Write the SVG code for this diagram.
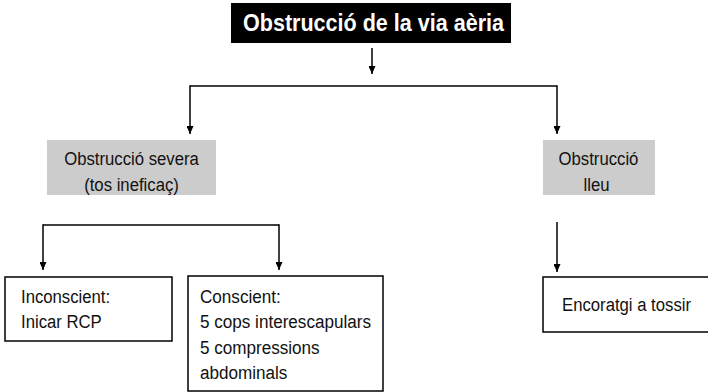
<svg xmlns="http://www.w3.org/2000/svg" width="708" height="392" viewBox="0 0 708 392">
<style>
text{font-family:"Liberation Sans",Arial,sans-serif;font-size:19px;fill:#111}
.title{font-size:24px;font-weight:bold;fill:#fff}
.gray{fill:#cccccc;stroke:none}
.box{fill:#fff;stroke:#000;stroke-width:1.5}
.ln{fill:none;stroke:#000;stroke-width:1.5}
</style>
<defs>
<marker id="ah" markerWidth="8" markerHeight="7" refX="8" refY="3.5" orient="auto" markerUnits="userSpaceOnUse">
<path d="M0,0 L8,3.5 L0,7 Z" fill="#000"/>
</marker>
</defs>
<g id="connectors">
<line class="ln" x1="372" y1="48" x2="372" y2="74" marker-end="url(#ah)"/>
<path class="ln" d="M190,86 H557"/>
<line class="ln" x1="190" y1="85.25" x2="190" y2="134" marker-end="url(#ah)"/>
<line class="ln" x1="557" y1="85.25" x2="557" y2="134" marker-end="url(#ah)"/>
<path class="ln" d="M43,225 H279"/>
<line class="ln" x1="43" y1="224.25" x2="43" y2="270" marker-end="url(#ah)"/>
<line class="ln" x1="279" y1="224.25" x2="279" y2="270" marker-end="url(#ah)"/>
<line class="ln" x1="557" y1="222" x2="557" y2="272" marker-end="url(#ah)"/>
</g>
<g id="title">
<rect x="231" y="3" width="280" height="40" fill="#000"/>
<text class="title" x="243" y="31" textLength="261" lengthAdjust="spacingAndGlyphs">Obstrucció de la via aèria</text>
</g>
<g id="severa">
<rect class="gray" x="47" y="140" width="169" height="55"/>
<text transform="translate(131.5,165) scale(0.88,1)" text-anchor="middle">Obstrucció severa</text>
<text transform="translate(131.5,191) scale(0.88,1)" text-anchor="middle">(tos ineficaç)</text>
</g>
<g id="lleu">
<rect class="gray" x="543" y="140" width="112" height="55"/>
<text transform="translate(598.5,165) scale(0.88,1)" text-anchor="middle">Obstrucció</text>
<text transform="translate(596.5,191) scale(0.88,1)" text-anchor="middle">lleu</text>
</g>
<g id="inconscient">
<rect class="box" x="5" y="277" width="167" height="64"/>
<text transform="translate(21,303) scale(0.88,1)">Inconscient:</text>
<text transform="translate(21,328) scale(0.88,1)">Inicar RCP</text>
</g>
<g id="conscient">
<rect class="box" x="188" y="276" width="195" height="115"/>
<text transform="translate(200,303) scale(0.9,1)">Conscient:</text>
<text transform="translate(200,328) scale(0.9,1)">5 cops interescapulars</text>
<text transform="translate(200,354) scale(0.9,1)">5 compressions</text>
<text transform="translate(200,379) scale(0.9,1)">abdominals</text>
</g>
<g id="encoratgi">
<rect class="box" x="543" y="277" width="170" height="55"/>
<text transform="translate(562,311) scale(0.88,1)">Encoratgi a tossir</text>
</g>
</svg>
